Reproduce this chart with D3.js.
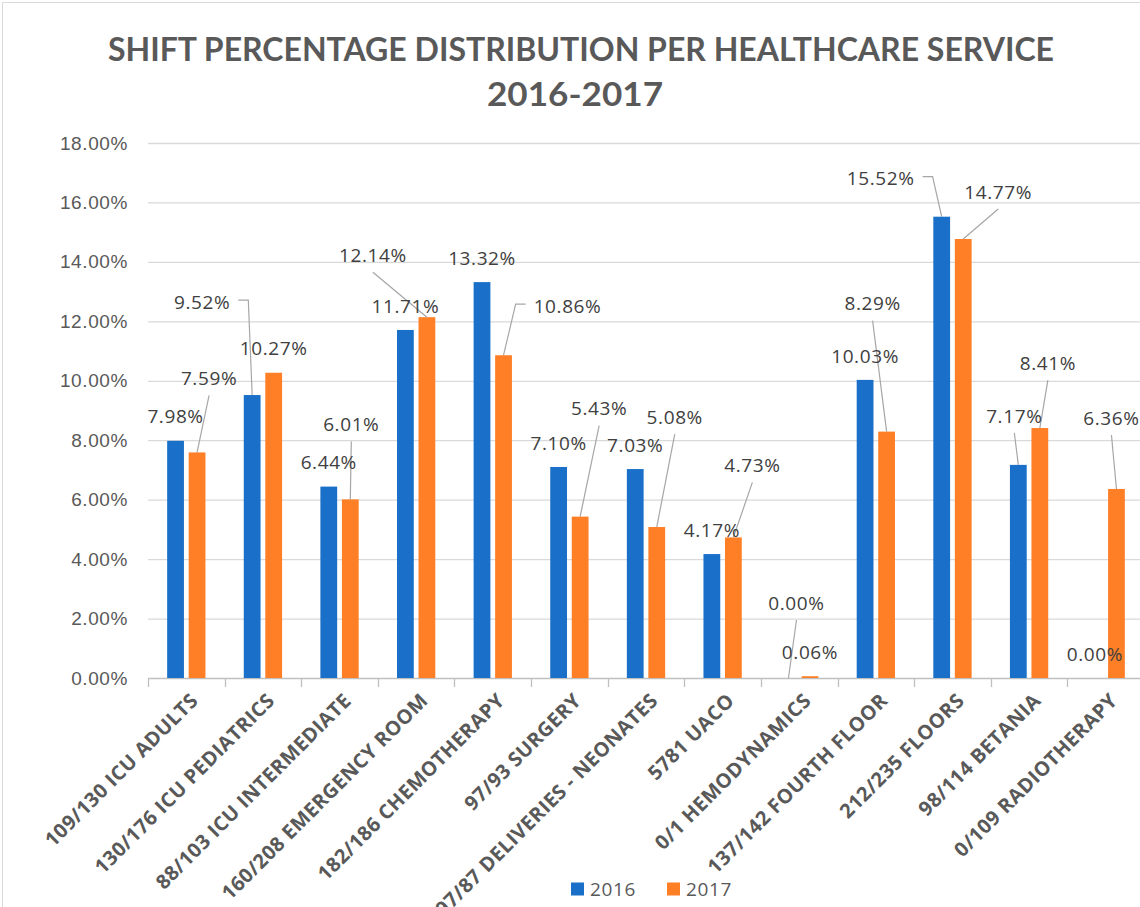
<!DOCTYPE html>
<html>
<head>
<meta charset="utf-8">
<script src="https://cdn.jsdelivr.net/npm/d3@7"></script>
<style>
  body { margin: 0; background: #fff; }
  svg { display: block; font-family: "Open Sans", Lato, sans-serif; }
</style>
</head>
<body>
<svg id="chart" width="1140" height="907"></svg>
<script>
/* Shift percentage per healthcare service, 2016 vs 2017. */

const services = [
  "109/130 ICU ADULTS", "130/176 ICU PEDIATRICS", "88/103 ICU INTERMEDIATE",
  "160/208 EMERGENCY ROOM", "182/186 CHEMOTHERAPY", "97/93 SURGERY",
  "97/87 DELIVERIES - NEONATES", "5781 UACO", "0/1 HEMODYNAMICS",
  "137/142 FOURTH FLOOR", "212/235 FLOORS", "98/114 BETANIA", "0/109 RADIOTHERAPY"
];
const years = ["2016", "2017"];
const share2016 = [7.98, 9.52, 6.44, 11.71, 13.32, 7.10, 7.03, 4.17, 0.00, 10.03, 15.52, 7.17, 0.00];
const share2017 = [7.59, 10.27, 6.01, 12.14, 10.86, 5.43, 5.08, 4.73, 0.06, 8.29, 14.77, 8.41, 6.36];
const yTicks = [0, 2, 4, 6, 8, 10, 12, 14, 16, 18];

/* Data-label nudges relative to the bar top: [dx, dy, leader].
   null = default spot just above the bar. */
const nudge2016 = [null, [-50, -93, "left"], null, null, null, null, null, null,
  [8, -75, "line"], null, [-61, -38, "left"], [-4, -49, "line"], null];
const nudge2017 = [[12, -74, "line"], null, [1, -75, "line"], [-54, -62, "line"],
  [64, -49, "right"], [19, -108, "line"], [18, -110, "line"], [19, -72, "line"], null,
  [-14, -128, "line"], [35, -47, "line"], [8, -65, "line"], [-5, -71, "line"]];

const COLORS = { "2016": "#1a70c8", "2017": "#ff7f27" };
const TEXT = "#595959";
const LABEL = "#404040";
const GRID = "#d9d9d9";
const LEADER = "#a6a6a6";
const FS = 19;
const SPACING = 0.6;

const svg = d3.select("#chart");

/* chart border */
svg.append("rect")
  .attr("x", 2.5).attr("y", 2.5).attr("width", 1200).attr("height", 1000)
  .attr("fill", "none").attr("stroke", GRID);

/* ---------- TITLE ---------- */

svg.append("text")
  .attr("x", 581).attr("y", 61)
  .attr("text-anchor", "middle")
  .attr("font-family", "Lato, sans-serif")
  .attr("font-size", 32).attr("font-weight", 700).attr("fill", TEXT)
  .attr("textLength", 946).attr("lengthAdjust", "spacingAndGlyphs")
  .text("SHIFT PERCENTAGE DISTRIBUTION PER HEALTHCARE SERVICE");
svg.append("text")
  .attr("x", 575).attr("y", 106)
  .attr("text-anchor", "middle")
  .attr("font-family", "Lato, sans-serif")
  .attr("font-size", 32).attr("font-weight", 700).attr("fill", TEXT)
  .attr("textLength", 176).attr("lengthAdjust", "spacingAndGlyphs")
  .text("2016-2017");

/* ---------- SCALES ---------- */

const x0 = d3.scaleBand().domain(services).range([148, 1144]);
const x1 = d3.scaleBand().domain(years)
  .range([x0.bandwidth() * 0.25, x0.bandwidth() * 0.75])
  .paddingInner(0.22);
const y = d3.scaleLinear().domain([0, 18]).range([678, 143]);

/* ---------- GRID + AXES ---------- */

svg.append("g")
  .selectAll("line")
  .data(yTicks.filter(function (t) { return t > 0; }))
  .enter().append("line")
  .attr("x1", 148).attr("x2", 1144)
  .attr("y1", function (d) { return y(d) + 0.5; })
  .attr("y2", function (d) { return y(d) + 0.5; })
  .attr("stroke", GRID).attr("stroke-width", 1.3);

const yAxis = svg.append("g")
  .attr("transform", "translate(128,0)")
  .call(d3.axisLeft(y).tickValues(yTicks).tickSize(0).tickPadding(0)
    .tickFormat(function (d) { return d.toFixed(2) + "%"; }));
yAxis.select(".domain").remove();
yAxis.selectAll("text")
  .attr("font-size", FS).attr("font-family", null).attr("fill", TEXT)
  .attr("letter-spacing", SPACING);

const xAxis = svg.append("g")
  .attr("transform", "translate(0," + y(0) + ")")
  .call(d3.axisBottom(x0).tickSize(0).tickFormat(""));
xAxis.select(".domain").attr("stroke", "#bfbfbf").attr("stroke-width", 1.3)
  .attr("d", "M148,0.5H1144");
xAxis.selectAll(".tick").remove();

/* tick marks at category boundaries */
svg.append("g")
  .selectAll("line")
  .data(services)
  .enter().append("line")
  .attr("x1", function (d) { return Math.round(x0(d)) + 0.5; })
  .attr("x2", function (d) { return Math.round(x0(d)) + 0.5; })
  .attr("y1", y(0)).attr("y2", y(0) + 9)
  .attr("stroke", "#bfbfbf").attr("stroke-width", 1.3);

/* category labels */
svg.append("g")
  .selectAll("text")
  .data(services)
  .enter().append("text")
  .attr("transform", function (d) {
    return "translate(" + (x0(d) + x0.bandwidth() / 2 + 13) + "," + (y(0) + 24) + ") rotate(-45)";
  })
  .attr("text-anchor", "end")
  .attr("font-size", 20).attr("font-weight", 700).attr("fill", TEXT)
  .attr("letter-spacing", 0.4)
  .text(function (d) { return d; });

/* ---------- BARS ---------- */

const rows = [];
services.forEach(function (s, i) {
  rows.push({ service: s, year: "2016", value: share2016[i], nudge: nudge2016[i] });
  rows.push({ service: s, year: "2017", value: share2017[i], nudge: nudge2017[i] });
});

function barX(d) { return x0(d.service) + x1(d.year); }
function barCx(d) { return barX(d) + x1.bandwidth() / 2; }

svg.append("g")
  .selectAll("rect")
  .data(rows)
  .enter().append("rect")
  .attr("x", barX)
  .attr("y", function (d) { return y(d.value); })
  .attr("width", x1.bandwidth())
  .attr("height", function (d) { return y(0) - y(d.value); })
  .attr("fill", function (d) { return COLORS[d.year]; });

/* ---------- DATA LABELS ---------- */

const leaderLayer = svg.append("g");
const labelLayer = svg.append("g");

rows.forEach(function (d) {
  const bx = barCx(d);
  const by = y(d.value);
  const n = d.nudge || [0, -24, null];
  const lx = bx + n[0];
  const ly = by + n[1];

  const t = labelLayer.append("text")
    .attr("x", lx).attr("y", ly).attr("dy", "0.35em")
    .attr("text-anchor", "middle")
    .attr("font-size", FS).attr("fill", LABEL)
    .attr("letter-spacing", SPACING)
    .text(d.value.toFixed(2) + "%");

  if (!n[2]) return;
  const half = t.node().getComputedTextLength() / 2;
  let pts;
  if (n[2] === "line") {
    pts = [[lx, ly + 17], [bx, by]];
  } else if (n[2] === "left") {
    pts = [[lx + half + 8, ly - 2], [lx + half + 18, ly - 2], [bx, by]];
  } else {
    pts = [[lx - half - 8, ly - 2], [lx - half - 18, ly - 2], [bx, by]];
  }
  leaderLayer.append("path")
    .attr("d", d3.line()(pts))
    .attr("fill", "none").attr("stroke", LEADER).attr("stroke-width", 1.2);
});

/* ---------- LEGEND ---------- */

const legend = svg.append("g").attr("transform", "translate(571,889)");
years.forEach(function (yr, i) {
  const g = legend.append("g").attr("transform", "translate(" + (i * 96) + ",0)");
  g.append("rect").attr("x", 0).attr("y", -6.5).attr("width", 13).attr("height", 13)
    .attr("fill", COLORS[yr]);
  g.append("text").attr("x", 19).attr("y", 0).attr("dy", "0.35em")
    .attr("font-size", FS).attr("fill", TEXT).attr("letter-spacing", SPACING).text(yr);
});
</script>
</body>
</html>
